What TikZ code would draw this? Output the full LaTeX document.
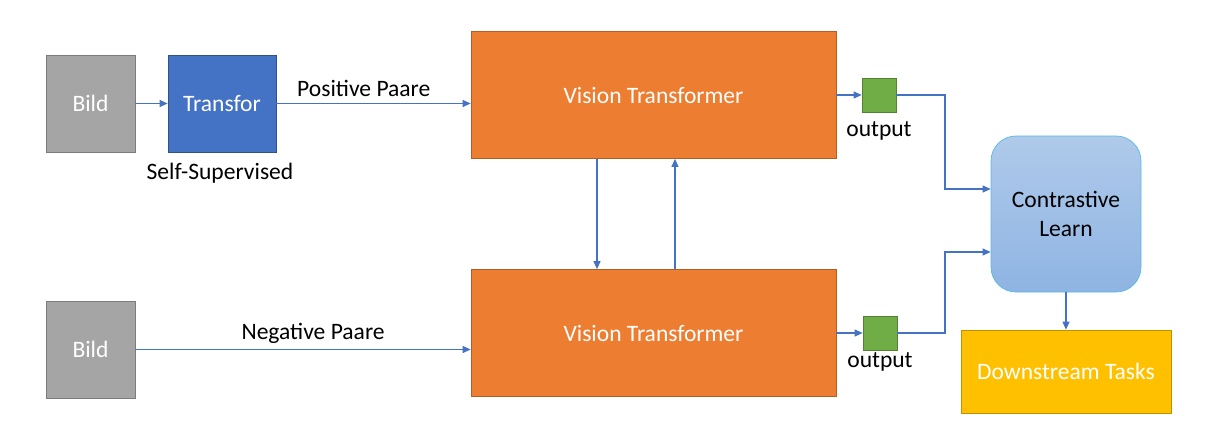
\documentclass[tikz,border=0pt]{standalone}
\usepackage{fontspec}
\setmainfont{Carlito}
\usepackage{xcolor}
\usepackage{tikz}
\usetikzlibrary{arrows.meta}

\definecolor{bildgray}{HTML}{A5A5A5}
\definecolor{transblue}{HTML}{4472C4}
\definecolor{vtorange}{HTML}{ED7D31}
\definecolor{outgreen}{HTML}{70AD47}
\definecolor{contop}{HTML}{AFCAEA}
\definecolor{conbottom}{HTML}{8FB4E3}
\definecolor{taskyellow}{HTML}{FFC000}

\begin{document}
\begin{tikzpicture}[font=\fontsize{13.4}{16}\selectfont]
        % Define styles
        \tikzset{
            bild/.style={rectangle, draw=bildgray!75!black, fill=bildgray, text=white, minimum width=1.78cm, minimum height=1.94cm},
            transform/.style={rectangle, draw=transblue!70!black, fill=transblue, text=white, minimum width=2.16cm, minimum height=1.94cm},
            vision/.style={rectangle, draw=vtorange!75!black, fill=vtorange, text=white, minimum width=7.3cm, minimum height=2.54cm},
            output/.style={rectangle, draw=outgreen!75!black, fill=outgreen, minimum size=0.68cm},
            contrast/.style={rectangle, rounded corners=0.5cm, draw=transblue!60!cyan!80, top color=contop, bottom color=conbottom, align=center, minimum width=3cm, minimum height=3.12cm},
            task/.style={rectangle, draw=taskyellow!75!black, fill=taskyellow, text=white, minimum width=4.2cm, minimum height=1.66cm},
            arrow/.style={-{Triangle[length=1.6mm, width=1.4mm]}, draw=transblue, semithick}
        }
        \useasboundingbox (0,0) rectangle (24.12,8.62);

        % Nodes
        \node[bild] (bild_node_1) at (1.81,6.55) {Bild};
        \node[transform] (transform_node) at (4.44,6.55) {Transfor};
        \node[] (self_label) at (4.4,5.16) {Self-Supervised};
        \node[vision] (vision_node_1) at (13.07,6.72) {Vision Transformer};
        \node[output] (output_node_1) at (17.58,6.72) {};
        \node[] (output_label_1) at (17.58,6.0) {output};

        \node[bild] (bild_node_2) at (1.81,1.63) {Bild};
        \node[vision] (vision_node_2) at (13.07,1.96) {Vision Transformer};
        \node[output] (output_node_2) at (17.6,1.96) {};
        \node[] (output_label_2) at (17.6,1.38) {output};

        \node[contrast] (contrast_node) at (21.32,4.34) {Contrastive\\Learn};
        \node[task] (task_node) at (21.32,1.19) {Downstream Tasks};

        \coordinate (join_1) at (18.9,4.84);
        \coordinate (join_2) at (18.9,3.58);

        % Arrows
        \draw[arrow] (bild_node_1) -- (transform_node);
        \draw[arrow] (transform_node.east) -- (transform_node.east -| vision_node_1.west) node[pos=0.45, above] {Positive Paare};
        \draw[arrow] (bild_node_2.east) -- (bild_node_2.east -| vision_node_2.west) node[pos=0.53, above] {Negative Paare};
        \draw[arrow] ([xshift=-1.13cm]vision_node_1.south) -- ([xshift=-1.13cm]vision_node_2.north);
        \draw[arrow] ([xshift=0.43cm]vision_node_2.north) -- ([xshift=0.43cm]vision_node_1.south);
        \draw[arrow] (vision_node_1) -- (output_node_1);
        \draw[arrow] (vision_node_2) -- (output_node_2);
        \draw[arrow] (output_node_1.east) -| (join_1) -- (contrast_node.west |- join_1);
        \draw[arrow] (output_node_2.east) -| (join_2) -- (contrast_node.west |- join_2);
        \draw[arrow] (contrast_node) -- (task_node);
    \end{tikzpicture}
\end{document}
